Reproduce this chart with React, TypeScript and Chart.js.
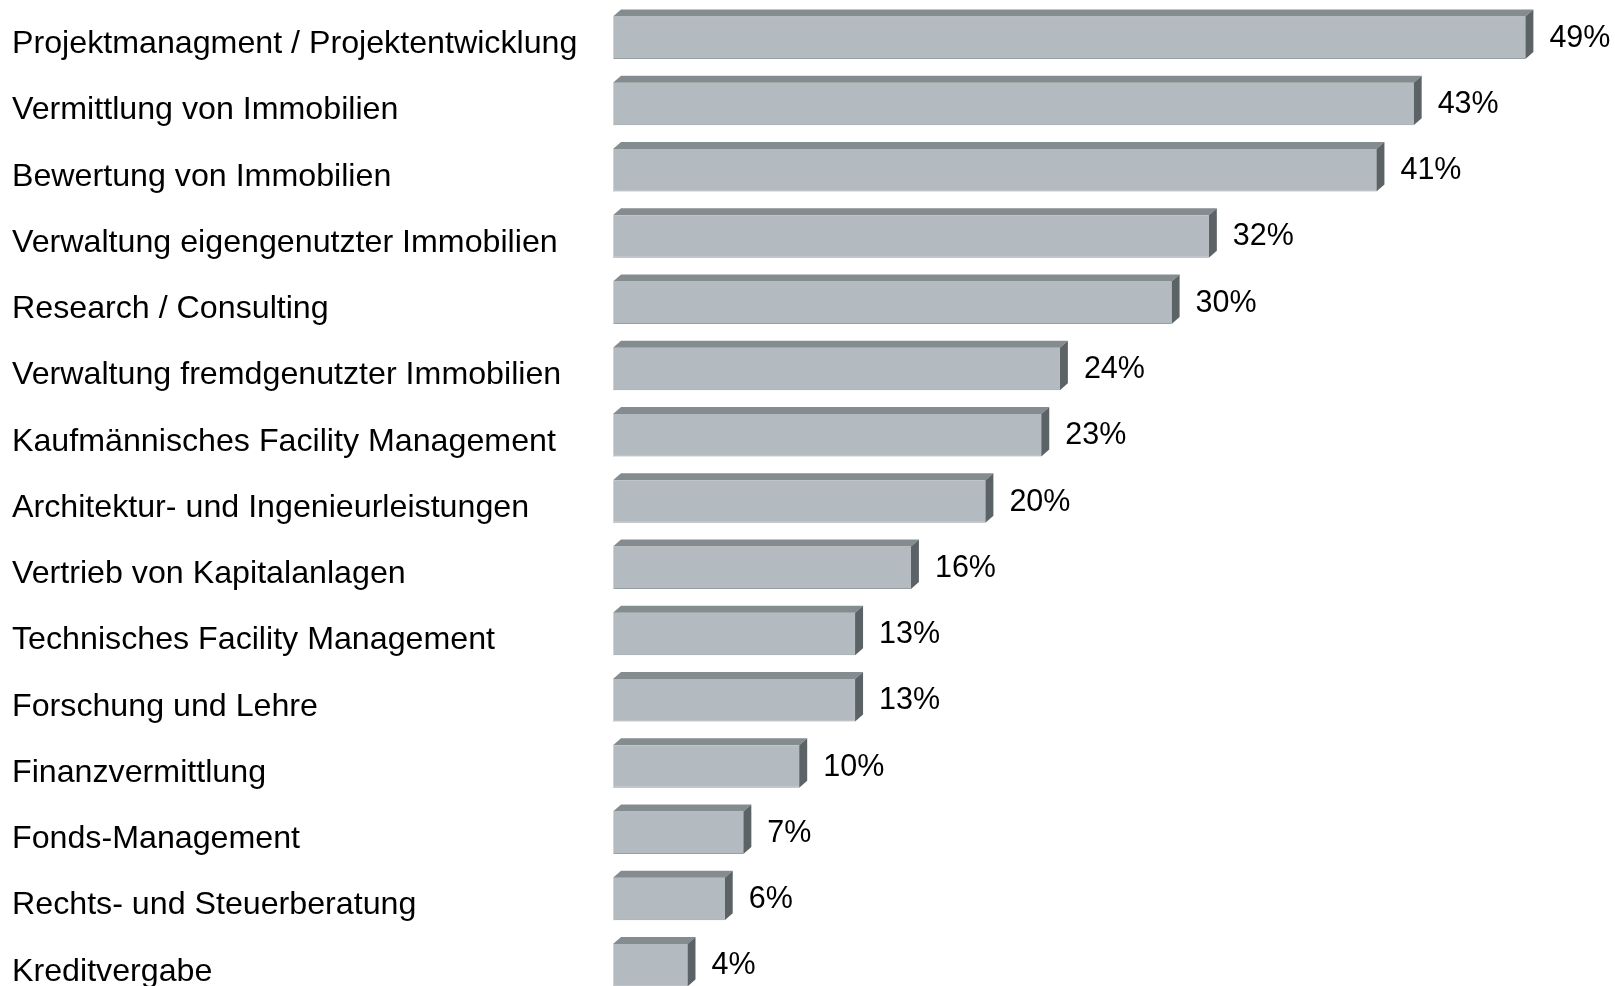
import React, { useEffect, useRef } from "react";
import { Chart, registerables } from "chart.js";

Chart.register(...registerables);

const categories = [
  "Projektmanagment / Projektentwicklung",
  "Vermittlung von Immobilien",
  "Bewertung von Immobilien",
  "Verwaltung eigengenutzter Immobilien",
  "Research / Consulting",
  "Verwaltung fremdgenutzter Immobilien",
  "Kaufmännisches Facility Management",
  "Architektur- und Ingenieurleistungen",
  "Vertrieb von Kapitalanlagen",
  "Technisches Facility Management",
  "Forschung und Lehre",
  "Finanzvermittlung",
  "Fonds-Management",
  "Rechts- und Steuerberatung",
  "Kreditvergabe",
];

const values = [49, 43, 41, 32, 30, 24, 23, 20, 16, 13, 13, 10, 7, 6, 4];

const valueLabels = values.map((v) => `${v}%`);

const FONT = "'Liberation Sans', Arial, Helvetica, sans-serif";
const FRONT = "#b3bac0";
const TOP = "#858c8f";
const SIDE = "#5c6366";
const EDGE = "#959ea2";
const DX = 8;
const DY = 7;

const bar3dPlugin = {
  id: "bar3d",
  afterDatasetsDraw(chart: any) {
    const ctx = chart.ctx;
    const meta = chart.getDatasetMeta(0);
    ctx.save();
    meta.data.forEach((bar: any, i: number) => {
      const p = bar.getProps(["x", "y", "base", "height"], true);
      const left = p.base;
      const right = p.x;
      const top = p.y - p.height / 2;
      const bottom = p.y + p.height / 2;
      // top face
      ctx.fillStyle = TOP;
      ctx.beginPath();
      ctx.moveTo(left, top);
      ctx.lineTo(left + DX, top - DY);
      ctx.lineTo(right + DX, top - DY);
      ctx.lineTo(right, top);
      ctx.closePath();
      ctx.fill();
      // side face
      ctx.fillStyle = SIDE;
      ctx.beginPath();
      ctx.moveTo(right, top);
      ctx.lineTo(right + DX, top - DY);
      ctx.lineTo(right + DX, bottom - DY);
      ctx.lineTo(right, bottom);
      ctx.closePath();
      ctx.fill();
      // light left edge
      ctx.fillStyle = "#cdd2d6";
      ctx.fillRect(left, top, 1, p.height);
      // value label
      ctx.fillStyle = "#000";
      ctx.font = `30.5px ${FONT}`;
      ctx.textAlign = "left";
      ctx.textBaseline = "alphabetic";
      ctx.fillText(valueLabels[i], right + DX + 16, p.y + 9);
    });
    ctx.restore();
  },
};

export default function App() {
  const ref = useRef<HTMLCanvasElement | null>(null);

  useEffect(() => {
    if (!ref.current) return;
    const chart = new Chart(ref.current, {
      type: "bar",
      data: {
        labels: categories,
        datasets: [
          {
            data: values,
            backgroundColor: FRONT,
            borderColor: EDGE,
            borderWidth: { top: 0, right: 0, bottom: 1, left: 0 },
            borderSkipped: false,
            barPercentage: 0.642,
            categoryPercentage: 1,
          },
        ],
      },
      options: {
        indexAxis: "y",
        animation: false,
        responsive: false,
        devicePixelRatio: 1,
        layout: { padding: { left: 12, right: 71, top: 4.6, bottom: 1.6 } },
        plugins: {
          legend: { display: false },
          tooltip: { enabled: false },
          title: { display: false },
        },
        scales: {
          x: {
            display: false,
            min: 0,
            max: 50,
          },
          y: {
            position: "left",
            grid: { display: false, drawTicks: false },
            border: { display: false },
            ticks: {
              crossAlign: "far",
              padding: 0,
              labelOffset: 6.5,
              color: "#000",
              font: { family: FONT, size: 32.2 },
              autoSkip: false,
            },
            afterFit(scale: any) {
              scale.width = 601;
              scale.paddingTop = 0;
              scale.paddingBottom = 0;
            },
          },
        },
      },
      plugins: [bar3dPlugin],
    } as any);
    return () => chart.destroy();
  }, []);

  return (
    <div
      style={{
        position: "absolute",
        left: 0,
        top: 0,
        width: 1615,
        height: 986,
        overflow: "hidden",
        background: "#fff",
      }}
    >
      <canvas ref={ref} width={1615} height={1000} style={{ display: "block" }} />
    </div>
  );
}
